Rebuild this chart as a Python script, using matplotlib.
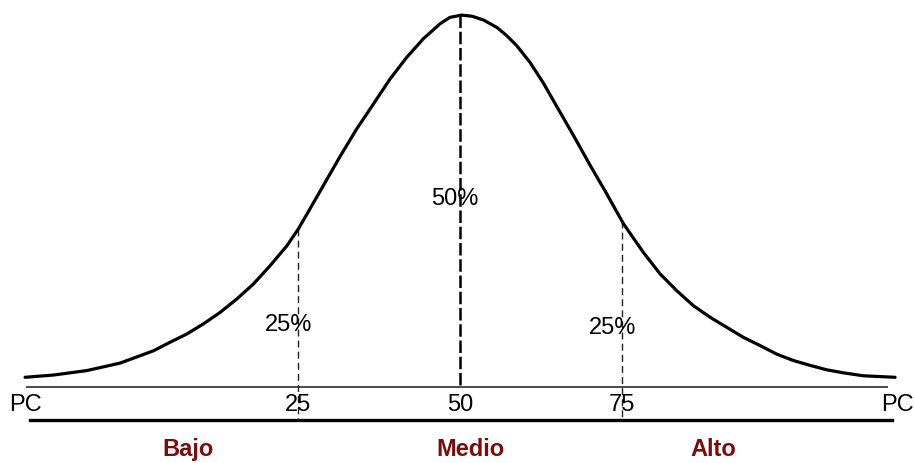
import numpy as np
import matplotlib
matplotlib.use("Agg")
import matplotlib.pyplot as plt

# Curve: x in standard units (quartile marks at -1 / +1),
# height relative to the peak (baseline = 0)
curve_x = [-2.685, -2.510, -2.304, -2.099, -1.893, -1.790, -1.687, -1.585,
           -1.481, -1.378, -1.276, -1.173, -1.070, -0.998, -0.926, -0.844,
           -0.741, -0.638, -0.556, -0.432, -0.329, -0.226, -0.123, -0.062,
           0.010, 0.074, 0.144, 0.227, 0.288, 0.350, 0.432, 0.514,
           0.597, 0.699, 0.802, 0.905, 1.008, 1.131, 1.235, 1.338,
           1.440, 1.543, 1.646, 1.749, 1.852, 1.955, 2.057, 2.160,
           2.264, 2.366, 2.490, 2.685]
curve_h = [0.026, 0.032, 0.044, 0.064, 0.097, 0.120, 0.142, 0.169,
           0.200, 0.236, 0.276, 0.325, 0.378, 0.424, 0.478, 0.540,
           0.618, 0.692, 0.745, 0.826, 0.884, 0.934, 0.974, 0.991,
           0.997, 0.994, 0.984, 0.964, 0.942, 0.915, 0.870, 0.815,
           0.752, 0.675, 0.595, 0.518, 0.438, 0.361, 0.303, 0.258,
           0.218, 0.187, 0.160, 0.133, 0.111, 0.088, 0.071, 0.058,
           0.046, 0.038, 0.030, 0.026]

tick_labels = ["PC", "25", "50", "75", "PC"]
tick_pos = [-2.68, -1.0, 0.0, 1.0, 2.70]

pct_labels = ["25%", "50%", "25%"]
pct_pos = [(-1.056, 0.169), (-0.031, 0.507), (0.944, 0.161)]

zones = ["Bajo", "Medio", "Alto"]
zone_pos = [-1.679, 0.062, 1.562]

quartiles = [-1.0, 1.0]

plt.rcParams['font.family'] = ['Liberation Sans', 'DejaVu Sans']

fig = plt.figure(figsize=(9.14, 4.64), dpi=100)
ax = fig.add_axes([0, 0, 1, 1])
ax.set_xlim(-2.840, 2.802)
ax.set_ylim(-0.2038, 1.0402)
ax.axis('off')

# bell curve
ax.plot(curve_x, curve_h, color='black', lw=2.3, solid_capstyle='round',
        solid_joinstyle='round', zorder=3)

# axis lines
ax.plot([-2.673, 2.636], [0, 0], color='#4a4a4a', lw=1.4)
ax.plot([-2.654, 2.667], [-0.0885, -0.0885], color='black', lw=2.4)

# quartile dashed lines
for q in quartiles:
    top = np.interp(q, curve_x, curve_h)
    ax.plot([q, q], [top, -0.0885], color='#222222', lw=1.0,
            dashes=(5, 3))

# median line
ax.plot([0, 0], [max(curve_h), 0], color='black', lw=1.8, dashes=(5, 1.5))

for lab, x in zip(tick_labels, tick_pos):
    ax.text(x, -0.0456, lab, ha='center', va='center', fontsize=17,
            color='black')

for lab, (x, y) in zip(pct_labels, pct_pos):
    ax.text(x, y, lab, ha='center', va='center', fontsize=17, color='black')

for lab, x in zip(zones, zone_pos):
    ax.text(x, -0.166, lab, ha='center', va='center', fontsize=17,
            fontweight='bold', color='#7a0c0c')

fig.savefig('out.png', dpi=100)
